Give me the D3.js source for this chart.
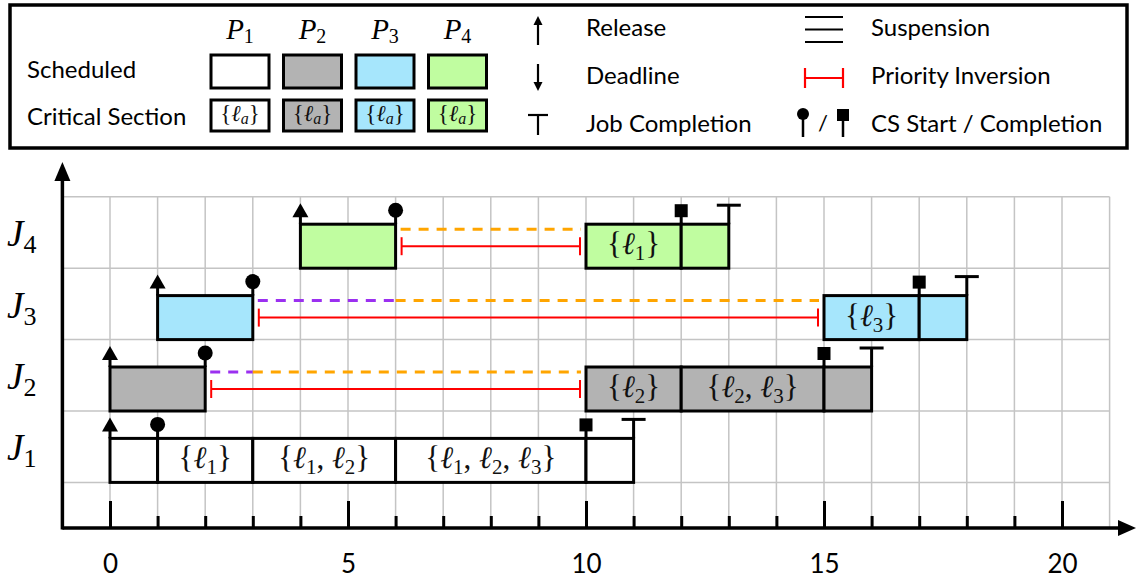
<!DOCTYPE html>
<html><head><meta charset="utf-8">
<script src="https://cdn.jsdelivr.net/npm/d3@7"></script>
<style>body{margin:0;background:#fff} svg{display:block}</style>
</head><body><svg id="c" width="1137" height="586"></svg>
<script>
// ---------- data ----------
const procNames = ["1", "2", "3", "4"];
const procColors = ["#ffffff", "#b3b3b3", "#a6e6fc", "#c0fda0"];
const jobNames = ["1", "2", "3", "4"];
const majorTicks = [0, 5, 10, 15, 20];
const minorTicks = [1, 2, 3, 4, 6, 7, 8, 9, 11, 12, 13, 14, 16, 17, 18, 19];
// [job, start, end, locks held]
const segments = [
  [1, 0, 1, []], [1, 1, 3, ["1"]], [1, 3, 6, ["1", "2"]], [1, 6, 10, ["1", "2", "3"]], [1, 10, 11, []],
  [2, 0, 2, []], [2, 10, 12, ["2"]], [2, 12, 15, ["2", "3"]], [2, 15, 16, []],
  [3, 1, 3, []], [3, 15, 17, ["3"]], [3, 17, 18, []],
  [4, 4, 6, []], [4, 10, 12, ["1"]], [4, 12, 13, []]
];
const releases = [[1, 0], [2, 0], [3, 1], [4, 4]];
const csStarts = [[1, 1], [2, 2], [3, 3], [4, 6]];
const csEnds = [[1, 10], [2, 15], [3, 17], [4, 12]];
const completions = [[1, 11], [2, 16], [3, 18], [4, 13]];
// [job, start, end, kind]
const suspensions = [[2, 2, 3, "p"], [2, 3, 10, "o"], [3, 3, 6, "p"], [3, 6, 15, "o"], [4, 6, 10, "o"]];
const inversions = [[2, 2, 10], [3, 3, 15], [4, 6, 10]];
const legendLeft = ["Scheduled", "Critical Section"];
const legendMid = ["Release", "Deadline", "Job Completion"];
const legendRight = ["Suspension", "Priority Inversion", "CS Start / Completion"];

// ---------- setup ----------
const svg = d3.select("#c");
const SANS = "Lato, 'DejaVu Sans', sans-serif";
const SERIF = "'Liberation Serif', 'DejaVu Serif', serif";
const x = d3.scaleLinear().domain([-1, 21]).range([62.4, 1109.6]);
const y = d3.scaleLinear().domain([0, 4]).range([482.4, 196.8]);
const AXIS_Y = 528, BOX_H = 44;
const susColor = {p: "#9b30f0", o: "#ffa500"};
const rowBase = j => y(j - 1);
const boxTop = j => rowBase(j) - BOX_H;

function lockText(sel, locks, small, shift) {
  sel.append("tspan").text("{");
  locks.forEach((l, i) => {
    if (i) sel.append("tspan").attr("dy", -shift).text(",\u2005");
    sel.append("tspan").attr("font-style", "italic").text("\u2113");
    sel.append("tspan").attr("font-size", small).attr("dy", shift)
      .attr("font-style", l === "a" ? "italic" : "normal").text(l);
  });
  sel.append("tspan").attr("dy", locks.length ? -shift : 0).text("}");
}

// ---------- grid ----------
const grid = svg.append("g").attr("stroke", "#c4c4c4").attr("stroke-width", 1.5);
grid.selectAll("line.v").data(d3.range(0, 22)).join("line")
  .attr("x1", d => x(d)).attr("x2", d => x(d))
  .attr("y1", AXIS_Y).attr("y2", y(4));
grid.selectAll("line.h").data(d3.range(0, 5)).join("line")
  .attr("x1", x(-1)).attr("x2", x(21))
  .attr("y1", d => y(d)).attr("y2", d => y(d));

// ---------- axes ----------
const ax = svg.append("g").attr("transform", `translate(0,${AXIS_Y})`)
  .call(d3.axisBottom(x).tickValues(majorTicks).tickSize(-27).tickPadding(27).tickFormat(d3.format("d")));
ax.select(".domain").remove();
ax.selectAll(".tick line").attr("stroke", "#000").attr("stroke-width", 3);
ax.selectAll(".tick text").attr("font-family", SANS).attr("font-size", 26).attr("fill", "#000");
const axm = svg.append("g").attr("transform", `translate(0,${AXIS_Y})`)
  .call(d3.axisBottom(x).tickValues(minorTicks).tickSize(-12).tickFormat(""));
axm.select(".domain").remove();
axm.selectAll(".tick line").attr("stroke", "#000").attr("stroke-width", 3);

svg.append("line").attr("x1", x(-1)).attr("x2", 1120).attr("y1", AXIS_Y).attr("y2", AXIS_Y)
  .attr("stroke", "#000").attr("stroke-width", 3.5);
svg.append("path").attr("d", `M1136,${AXIS_Y} L1118,${AXIS_Y - 8} L1118,${AXIS_Y + 8} Z`).attr("fill", "#000");
svg.append("line").attr("x1", x(-1)).attr("x2", x(-1)).attr("y1", AXIS_Y + 1.5).attr("y2", 180)
  .attr("stroke", "#000").attr("stroke-width", 3.5);
svg.append("path").attr("d", `M${x(-1)},162 L${x(-1) - 8},181 L${x(-1) + 8},181 Z`).attr("fill", "#000");

// job labels
jobNames.forEach((n, i) => {
  const t = svg.append("text").attr("x", 7).attr("y", rowBase(i + 1) - 22)
    .attr("font-family", SERIF).attr("font-size", 37);
  t.append("tspan").attr("font-style", "italic").text("J");
  t.append("tspan").attr("font-size", 26).attr("dy", 7).text(n);
});

// ---------- suspensions & inversions ----------
svg.selectAll("line.sus").data(suspensions).join("line")
  .attr("x1", d => x(d[1]) + (d[1] === csStarts.find(c => c[0] === d[0])[1] ? 5 : 0))
  .attr("x2", d => x(d[2]) - (d[3] === "o" ? 5 : 0))
  .attr("y1", d => boxTop(d[0]) + 5).attr("y2", d => boxTop(d[0]) + 5)
  .attr("stroke", d => susColor[d[3]]).attr("stroke-width", 3)
  .attr("stroke-dasharray", "10,8");

const inv = svg.append("g").attr("stroke", "#ff0000").attr("stroke-width", 2);
inversions.forEach(d => {
  const yc = boxTop(d[0]) + 22, x1 = x(d[1]) + 6, x2 = x(d[2]) - 6;
  inv.append("line").attr("x1", x1).attr("x2", x2).attr("y1", yc).attr("y2", yc);
  inv.append("line").attr("x1", x1).attr("x2", x1).attr("y1", yc - 9).attr("y2", yc + 9);
  inv.append("line").attr("x1", x2).attr("x2", x2).attr("y1", yc - 9).attr("y2", yc + 9);
});

// ---------- boxes ----------
const seg = svg.selectAll("g.seg").data(segments).join("g");
seg.append("rect")
  .attr("x", d => x(d[1])).attr("width", d => x(d[2]) - x(d[1]))
  .attr("y", d => boxTop(d[0])).attr("height", BOX_H)
  .attr("fill", d => procColors[d[0] - 1]).attr("stroke", "#000").attr("stroke-width", 3);
seg.filter(d => d[3].length).append("text")
  .attr("x", d => (x(d[1]) + x(d[2])) / 2).attr("y", d => boxTop(d[0]) + 30)
  .attr("text-anchor", "middle").attr("font-family", SERIF).attr("font-size", 31).attr("fill", "#111")
  .each(function (d) { lockText(d3.select(this), d[3], 21, 6); });

// ---------- markers ----------
const mk = svg.append("g").attr("stroke", "#000").attr("stroke-width", 3).attr("fill", "#000");
releases.forEach(([j, t]) => {
  const bt = boxTop(j);
  mk.append("line").attr("x1", x(t)).attr("x2", x(t)).attr("y1", bt).attr("y2", bt - 8);
  mk.append("path").attr("stroke", "none")
    .attr("d", `M${x(t)},${bt - 21} L${x(t) - 8},${bt - 7} L${x(t) + 8},${bt - 7} Z`);
});
csStarts.forEach(([j, t]) => {
  const bt = boxTop(j);
  mk.append("line").attr("x1", x(t)).attr("x2", x(t)).attr("y1", bt).attr("y2", bt - 14);
  mk.append("circle").attr("stroke", "none").attr("cx", x(t)).attr("cy", bt - 14).attr("r", 7.5);
});
csEnds.forEach(([j, t]) => {
  const bt = boxTop(j);
  mk.append("line").attr("x1", x(t)).attr("x2", x(t)).attr("y1", bt).attr("y2", bt - 8);
  mk.append("rect").attr("stroke", "none").attr("x", x(t) - 6.5).attr("y", bt - 20).attr("width", 13).attr("height", 13);
});
completions.forEach(([j, t]) => {
  const bt = boxTop(j);
  mk.append("line").attr("x1", x(t)).attr("x2", x(t)).attr("y1", bt).attr("y2", bt - 19);
  mk.append("line").attr("x1", x(t) - 12).attr("x2", x(t) + 12).attr("y1", bt - 19).attr("y2", bt - 19);
});

// ---------- legend ----------
const lg = svg.append("g");
lg.append("rect").attr("x", 10).attr("y", 5).attr("width", 1117).attr("height", 143)
  .attr("fill", "none").attr("stroke", "#000").attr("stroke-width", 3.5);
const rowY = [78, 125];
legendLeft.forEach((s, i) => lg.append("text").attr("x", 27).attr("y", rowY[i])
  .attr("font-family", SANS).attr("font-size", 24).text(s));
const lx = d3.scalePoint().domain(procNames).range([240, 457.5]);
procNames.forEach((p, i) => {
  const cx = lx(p);
  const t = lg.append("text").attr("x", cx).attr("y", 39).attr("text-anchor", "middle")
    .attr("font-family", SERIF).attr("font-size", 29);
  t.append("tspan").attr("font-style", "italic").text("P");
  t.append("tspan").attr("font-size", 20).attr("dy", 4).text(p);
  lg.append("rect").attr("x", cx - 29).attr("y", 55).attr("width", 58).attr("height", 33)
    .attr("fill", procColors[i]).attr("stroke", "#000").attr("stroke-width", 3);
  lg.append("rect").attr("x", cx - 29).attr("y", 100).attr("width", 58).attr("height", 31)
    .attr("fill", procColors[i]).attr("stroke", "#000").attr("stroke-width", 3);
  const ct = lg.append("text").attr("x", cx).attr("y", 121).attr("text-anchor", "middle")
    .attr("font-family", SERIF).attr("font-size", 23).attr("fill", "#111");
  lockText(ct, ["a"], 16, 3);
});
const midY = [36, 84, 132];
legendMid.forEach((s, i) => lg.append("text").attr("x", 586).attr("y", midY[i])
  .attr("font-family", SANS).attr("font-size", 24).text(s));
legendRight.forEach((s, i) => lg.append("text").attr("x", 871).attr("y", midY[i])
  .attr("font-family", SANS).attr("font-size", 24).text(s));
const li = lg.append("g").attr("stroke", "#000").attr("stroke-width", 2.2).attr("fill", "#000");
// release
li.append("line").attr("x1", 538).attr("x2", 538).attr("y1", 45).attr("y2", 23);
li.append("path").attr("stroke", "none").attr("d", "M538,16 L533.5,25 L542.5,25 Z");
// deadline
li.append("line").attr("x1", 538).attr("x2", 538).attr("y1", 64).attr("y2", 84);
li.append("path").attr("stroke", "none").attr("d", "M538,91 L533.5,82 L542.5,82 Z");
// job completion
li.append("line").attr("x1", 528).attr("x2", 548).attr("y1", 115).attr("y2", 115);
li.append("line").attr("x1", 538).attr("x2", 538).attr("y1", 115).attr("y2", 135);
// suspension
[17, 29.5, 42].forEach(v => li.append("line").attr("x1", 805).attr("x2", 843).attr("y1", v).attr("y2", v));
// priority inversion
const lr = lg.append("g").attr("stroke", "#ff0000").attr("stroke-width", 2.2);
lr.append("line").attr("x1", 805).attr("x2", 843).attr("y1", 78).attr("y2", 78);
lr.append("line").attr("x1", 805).attr("x2", 805).attr("y1", 68).attr("y2", 88);
lr.append("line").attr("x1", 843).attr("x2", 843).attr("y1", 68).attr("y2", 88);
// cs start / completion
li.append("line").attr("x1", 803).attr("x2", 803).attr("y1", 114).attr("y2", 137).attr("stroke-width", 2.5);
li.append("circle").attr("stroke", "none").attr("cx", 803).attr("cy", 114).attr("r", 6);
li.append("line").attr("x1", 843).attr("x2", 843).attr("y1", 118).attr("y2", 137).attr("stroke-width", 2.5);
li.append("rect").attr("stroke", "none").attr("x", 837).attr("y", 109).attr("width", 12).attr("height", 12);
lg.append("text").attr("x", 823).attr("y", 131).attr("text-anchor", "middle")
  .attr("font-family", SANS).attr("font-size", 22).text("/");
</script></body></html>
